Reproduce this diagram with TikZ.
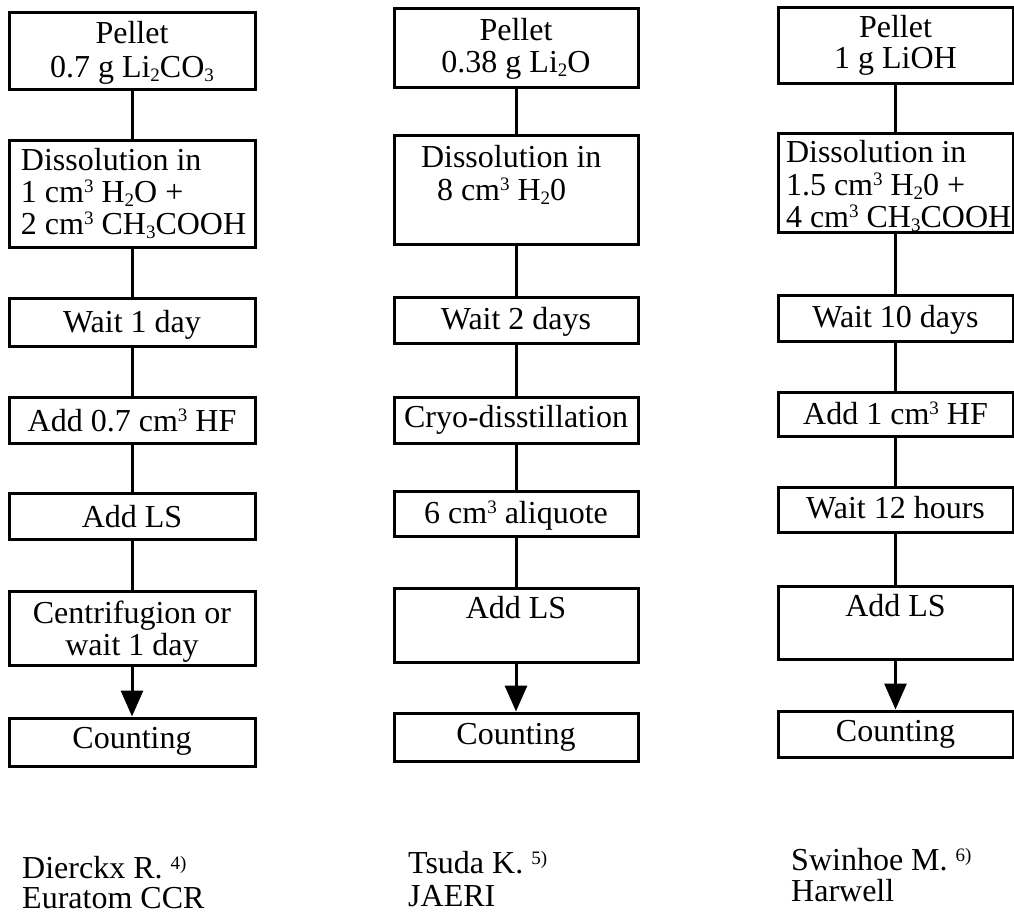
\documentclass[tikz,border=0pt]{standalone}
\usepackage{fontspec}
\setmainfont{Liberation Serif}
\usetikzlibrary{arrows.meta}
\newcommand\mysup[1]{{\fontsize{19}{19}\selectfont\raisebox{10pt}{#1}}}
\newcommand\mysub[1]{{\fontsize{19}{19}\selectfont\raisebox{-4pt}{#1}}}
\newcommand\refsup[1]{{\fontsize{19}{19}\selectfont\raisebox{9pt}{#1}}}
% #1 name, #2 left, #3 top, #4 right, #5 bottom, #6 top pad, #7 alignment, #8 text
\newcommand\stepnode[8]{%
  \pgfmathsetmacro\myW{#4-#2}\pgfmathsetmacro\myH{#5-#3}%
  \node[bx] (#1) at ({(#2+#4)/2},{(#3+#5)/2})
    {\parbox[c][\myH pt][t]{\myW pt}{\vspace*{#6pt}#7\strut #8\strut}};%
}
\begin{document}
\begin{tikzpicture}[x=1pt,y=-1pt,
  font=\fontsize{32}{31}\selectfont,
  bx/.style={draw=black, line width=3pt, inner sep=0pt, rectangle},
  link/.style={draw=black, line width=3pt},
  arr/.style={link, -{Triangle[length=26pt,width=22pt]}},
  reftext/.style={anchor=base west, inner sep=0pt}]
\useasboundingbox (0,0) rectangle (1014,913);
% ---------- column 1 ----------
\stepnode{p1}{9}{12}{255}{89}{9.5}{\centering}{Pellet\strut\\[3pt]0.7 g Li\mysub{2}CO\mysub{3}}
\stepnode{d1}{9}{140}{255}{247}{8.3}{\raggedright\leftskip=12pt}{Dissolution in\strut\\[-1pt]1 cm\mysup{3} H\mysub{2}O +\strut\\[-1pt]2 cm\mysup{3} CH\mysub{3}COOH}
\stepnode{w1}{9}{298}{255}{346}{12.5}{\centering}{Wait 1 day}
\stepnode{h1}{9}{397}{255}{443}{11.5}{\centering}{Add 0.7 cm\mysup{3} HF}
\stepnode{l1}{9}{493}{255}{539}{12}{\centering}{Add LS}
\stepnode{c1}{9}{591}{255}{665}{10}{\centering}{Centrifugion or\strut\\[-1pt]wait 1 day}
\stepnode{n1}{9}{718}{255}{766}{9}{\centering}{Counting}
% ---------- column 2 ----------
\stepnode{p2}{394}{8}{638}{87}{10}{\centering}{Pellet\strut\\[1pt]0.38 g Li\mysub{2}O}
\stepnode{d2}{394}{135}{638}{244}{10}{\raggedright\leftskip=27pt}{Dissolution in\strut\\\hspace*{16pt}8 cm\mysup{3} H\mysub{2}0}
\stepnode{w2}{394}{297}{638}{343}{10}{\centering}{Wait 2 days}
\stepnode{y2}{394}{397}{638}{443}{8}{\centering}{Cryo-disstillation}
\stepnode{a2}{394}{491}{638}{536}{9.5}{\centering}{6 cm\mysup{3} aliquote}
\stepnode{l2}{394}{588}{638}{662}{8}{\centering}{Add LS}
\stepnode{n2}{394}{713}{638}{761}{10}{\centering}{Counting}
% ---------- column 3 ----------
\stepnode{p3}{778}{7}{1013}{83}{8.5}{\centering}{Pellet\strut\\1 g LiOH}
\stepnode{d3}{778}{133}{1013}{232}{7.3}{\raggedright\leftskip=8pt}{Dissolution in\strut\\1.5 cm\mysup{3} H\mysub{2}0 +\strut\\[-1pt]4 cm\mysup{3} CH\mysub{3}COOH}
\stepnode{w3}{778}{295}{1013}{341}{10}{\centering}{Wait 10 days}
\stepnode{h3}{778}{392}{1013}{436}{9.5}{\centering}{Add 1 cm\mysup{3} HF}
\stepnode{t3}{778}{487}{1013}{532}{9}{\centering}{Wait 12 hours}
\stepnode{l3}{778}{586}{1013}{659}{8}{\centering}{Add LS}
\stepnode{n3}{778}{711}{1013}{757}{9}{\centering}{Counting}
% ---------- connectors ----------
\draw[link] (p1.south) -- (d1.north);
\draw[link] (d1.south) -- (w1.north);
\draw[link] (w1.south) -- (h1.north);
\draw[link] (h1.south) -- (l1.north);
\draw[link] (l1.south) -- (c1.north);
\draw[arr] (c1.south) -- (n1.north);
\draw[link] (p2.south) -- (d2.north);
\draw[link] (d2.south) -- (w2.north);
\draw[link] (w2.south) -- (y2.north);
\draw[link] (y2.south) -- (a2.north);
\draw[link] (a2.south) -- (l2.north);
\draw[arr] (l2.south) -- (n2.north);
\draw[link] (p3.south) -- (d3.north);
\draw[link] (d3.south) -- (w3.north);
\draw[link] (w3.south) -- (h3.north);
\draw[link] (h3.south) -- (t3.north);
\draw[link] (t3.south) -- (l3.north);
\draw[arr] (l3.south) -- (n3.north);
% ---------- references ----------
\node[reftext] (r1a) at (22,878) {Dierckx R. \refsup{4)}};
\node[reftext] (r1b) at (22,908) {Euratom CCR};
\node[reftext] (r2a) at (408,873) {Tsuda K. \refsup{5)}};
\node[reftext] (r2b) at (408,906) {JAERI};
\node[reftext] (r3a) at (791,870) {Swinhoe M. \refsup{6)}};
\node[reftext] (r3b) at (791,901) {Harwell};
\end{tikzpicture}
\end{document}
